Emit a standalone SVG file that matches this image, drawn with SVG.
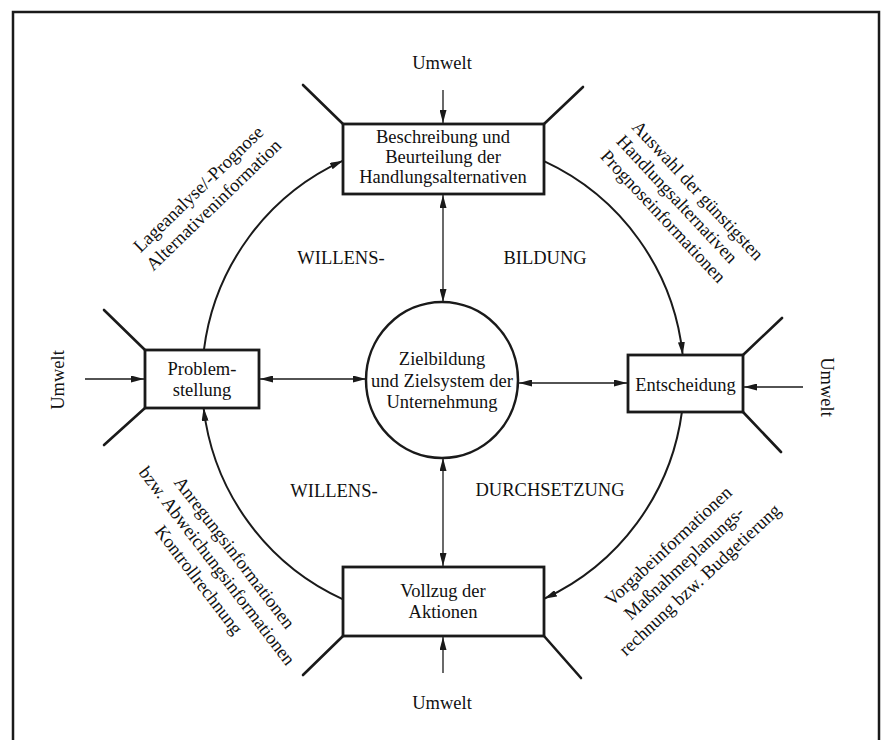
<svg xmlns="http://www.w3.org/2000/svg" width="884" height="740" viewBox="0 0 884 740">
  <style>
    text { font-family: "Liberation Serif", "Times New Roman", serif; font-size: 18.5px; fill: #111111; }
    .c { text-anchor: middle; }
    .box { fill: #ffffff; stroke: #1a1a1a; stroke-width: 2.8; }
    .ant { stroke: #1a1a1a; stroke-width: 2.6; fill: none; stroke-linecap: round; }
    .arc { stroke: #1a1a1a; stroke-width: 2; fill: none; }
    .con { stroke: #1a1a1a; stroke-width: 1.3; fill: none; }
  </style>
  <defs>
    <marker id="ah" viewBox="0 0 13 7" refX="13" refY="3.5" markerWidth="13" markerHeight="7" orient="auto-start-reverse" markerUnits="userSpaceOnUse">
      <path d="M0,0 L13,3.5 L0,7 z" fill="#1a1a1a"/>
    </marker>
  </defs>

  <rect width="884" height="740" fill="#ffffff"/>
  <rect id="frame" x="13" y="12" width="866" height="740" fill="none" stroke="#1a1a1a" stroke-width="2.5"/>

  <g id="connectors">
    <!-- outer cycle arcs -->
    <path class="arc" d="M203.9,350 A241,241 0 0 1 343,160.7" marker-end="url(#ah)"/>
    <path class="arc" d="M544,161.2 A241,241 0 0 1 682.7,355" marker-end="url(#ah)"/>
    <path class="arc" d="M681.9,412 A241,241 0 0 1 544,598.8" marker-end="url(#ah)"/>
    <path class="arc" d="M343,599.3 A241,241 0 0 1 203.6,408" marker-end="url(#ah)"/>
    <!-- links to the centre -->
    <path class="con" d="M443,195 L443,302" marker-start="url(#ah)" marker-end="url(#ah)"/>
    <path class="con" d="M443,458 L443,566" marker-start="url(#ah)" marker-end="url(#ah)"/>
    <path class="con" d="M260,379 L366,379" marker-start="url(#ah)" marker-end="url(#ah)"/>
    <path class="con" d="M519,383 L627,383" marker-start="url(#ah)" marker-end="url(#ah)"/>
    <!-- environment inputs -->
    <path class="con" d="M443,90 L443,123" marker-end="url(#ah)"/>
    <path class="con" d="M443,673 L443,637" marker-end="url(#ah)"/>
    <path class="con" d="M85,379 L144,379" marker-end="url(#ah)"/>
    <path class="con" d="M803,387 L744,387" marker-end="url(#ah)"/>
  </g>

  <g id="node-beschreibung">
    <line class="ant" x1="343" y1="124" x2="303" y2="85"/>
    <line class="ant" x1="544" y1="124" x2="583" y2="87"/>
    <rect class="box" x="343" y="124" width="201" height="70"/>
    <text class="c" x="443" y="143">Beschreibung und</text>
    <text class="c" x="443" y="163">Beurteilung der</text>
    <text class="c" x="443" y="183">Handlungsalternativen</text>
  </g>

  <g id="node-problem">
    <line class="ant" x1="145" y1="350" x2="104" y2="310"/>
    <line class="ant" x1="145" y1="408" x2="104" y2="445"/>
    <rect class="box" x="145" y="350" width="114" height="58"/>
    <text class="c" x="202" y="375">Problem-</text>
    <text class="c" x="202" y="396">stellung</text>
  </g>

  <g id="node-entscheidung">
    <line class="ant" x1="743" y1="355" x2="782" y2="318"/>
    <line class="ant" x1="743" y1="412" x2="781" y2="452"/>
    <rect class="box" x="628" y="355" width="115" height="57"/>
    <text class="c" x="685.5" y="391">Entscheidung</text>
  </g>

  <g id="node-vollzug">
    <line class="ant" x1="343" y1="636" x2="303" y2="675"/>
    <line class="ant" x1="544" y1="636" x2="581" y2="678"/>
    <rect class="box" x="343" y="567" width="201" height="69"/>
    <text class="c" x="443" y="597">Vollzug der</text>
    <text class="c" x="443" y="618">Aktionen</text>
  </g>

  <g id="node-ziel">
    <ellipse cx="442" cy="380" rx="76" ry="78" fill="#ffffff" stroke="#1a1a1a" stroke-width="2.5"/>
    <text class="c" x="442" y="365">Zielbildung</text>
    <text class="c" x="442" y="387">und Zielsystem der</text>
    <text class="c" x="442" y="408">Unternehmung</text>
  </g>

  <g id="environment-labels">
    <text class="c" x="442" y="69">Umwelt</text>
    <text class="c" x="442" y="709">Umwelt</text>
    <text class="c" transform="translate(58,380) rotate(-90)" x="0" y="6">Umwelt</text>
    <text class="c" transform="translate(827,387) rotate(90)" x="0" y="6">Umwelt</text>
  </g>

  <g id="phase-labels">
    <text class="c" x="341" y="264">WILLENS-</text>
    <text class="c" x="545" y="264">BILDUNG</text>
    <text class="c" x="334" y="497">WILLENS-</text>
    <text class="c" x="550" y="496">DURCHSETZUNG</text>
  </g>

  <g id="flow-labels">
    <g transform="translate(206,197) rotate(-44)">
      <text class="c" x="0" y="-5">Lageanalyse/-Prognose</text>
      <text class="c" x="0" y="17">Alternativeninformation</text>
    </g>
    <g transform="translate(620,138) rotate(47)">
      <text x="0" y="-15">Auswahl der günstigsten</text>
      <text x="0" y="6">Handlungsalternativen</text>
      <text x="0" y="28">Prognoseinformationen</text>
    </g>
    <g transform="translate(217,566) rotate(52.6)">
      <text class="c" x="0" y="-16">Anregungsinformationen</text>
      <text class="c" x="0" y="6">bzw. Abweichungsinformationen</text>
      <text class="c" x="0" y="29">Kontrollrechnung</text>
    </g>
    <g transform="translate(684,563) rotate(-43)">
      <text class="c" x="0" y="-17">Vorgabeinformationen</text>
      <text class="c" x="0" y="6">Maßnahmeplanungs-</text>
      <text class="c" x="0" y="29">rechnung bzw. Budgetierung</text>
    </g>
  </g>
</svg>
